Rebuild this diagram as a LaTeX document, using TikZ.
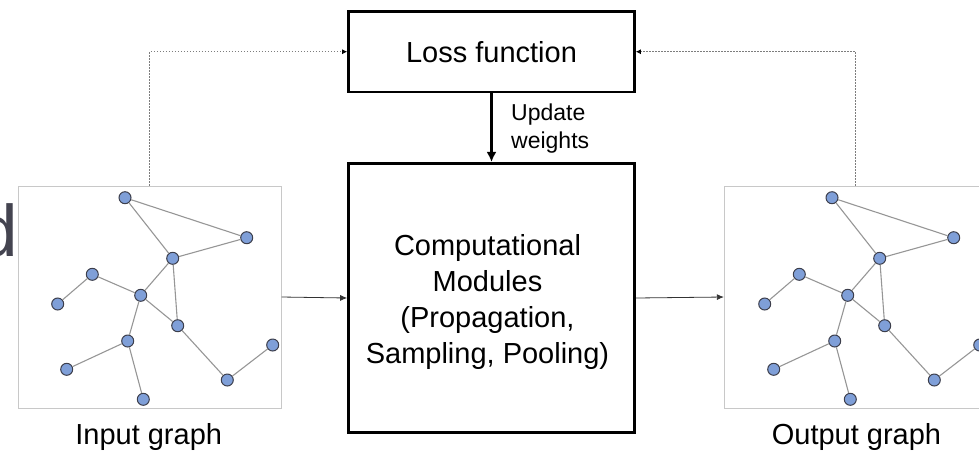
\documentclass[tikz,border=0pt]{standalone}
\usepackage{fontspec}
\setmainfont{Liberation Sans}
\usetikzlibrary{arrows.meta, positioning, calc}

\definecolor{vtxfill}{RGB}{127,159,216}
\definecolor{vtxline}{RGB}{60,62,75}
\definecolor{edgegray}{RGB}{150,150,150}
\definecolor{framegray}{RGB}{200,200,200}
\definecolor{dotgray}{RGB}{125,125,125}
\definecolor{slidegray}{RGB}{68,68,80}

\begin{document}
\begin{tikzpicture}[x=1pt, y=-1pt,
    vtx/.style={circle, draw=vtxline, fill=vtxfill, line width=1pt, minimum size=12pt, inner sep=0pt},
    edge/.style={draw=edgegray, line width=1.1pt},
    gframe/.style={draw=framegray, line width=1pt, minimum width=262.7pt, minimum height=222pt, inner sep=0pt},
    bigbox/.style={draw, line width=2.6pt, minimum width=286pt, inner sep=0pt},
    bigtext/.style={font=\fontsize{29}{36}\selectfont},
    feedback/.style={draw=dotgray, line width=0.8pt, dash pattern=on 1.5pt off 1.5pt, -{Latex[length=5pt,width=5pt,black]}},
    flow/.style={draw=black!80, line width=0.8pt, -{Latex[length=7pt,width=6pt]}},
    update/.style={line width=2.6pt, -{Latex[length=10pt,width=10pt]}}]
    \useasboundingbox (0,0) rectangle (979,451);
    % left-over letter of the slide
    \node[anchor=base west, inner sep=0pt, text=slidegray, font=\fontsize{73}{73}\selectfont] (slided) at (-22.3,256.7) {d};
    %
    \node[bigbox, bigtext, minimum height=80.7pt] (loss) at (491.5,51.7) {Loss function};
    \node[bigbox, minimum height=269.5pt,
        label={[bigtext, align=center, xshift=-4pt, yshift=-4pt]center:{Computational\\Modules\\(Propagation,\\Sampling, Pooling)}}] (comp) at (491.5,298) {};
    \node[font=\fontsize{23}{28}\selectfont, align=left, anchor=west, inner sep=0pt] (updlabel) at (511,129) {Update\\weights};
    %
    \node[gframe] (inframe) at (149.7,297) {};
    \node[gframe] (outframe) at (855.7,297) {};
    \node[bigtext, anchor=base] (inlabel) at (148.7,444.3) {Input graph};
    \node[bigtext, anchor=base] (outlabel) at (856.5,444.3) {Output graph};
    %
    \foreach \g/\dx in {in/0, out/707}{
    \foreach \i/\x/\y in {1/125/197.7, 2/246.7/237.7, 3/172.7/258.3, 4/92.3/274.3, 5/57.7/304, 6/140.7/295.3,
        7/177.7/325.7, 8/127.7/341, 9/66.7/369.3, 10/143.3/399.3, 11/227.3/380, 12/272.7/345}
    \node[vtx] (\g\i) at (\x+\dx,\y) {};
    \foreach \a/\b in {1/2, 1/3, 2/3, 3/6, 3/7, 4/5, 4/6, 6/7, 6/8, 8/9, 8/10, 7/11, 11/12}
    \draw[edge] (\g\a) -- (\g\b);
    }
    %
    \draw[update] (loss.south) -- (comp.north);
    \draw[flow] (inframe.east) -- (comp.west);
    \draw[flow] (comp.east) -- (outframe.west);
    \draw[feedback] (inframe.north) |- (loss.west);
    \draw[feedback] (outframe.north) |- (loss.east);
\end{tikzpicture}
\end{document}
